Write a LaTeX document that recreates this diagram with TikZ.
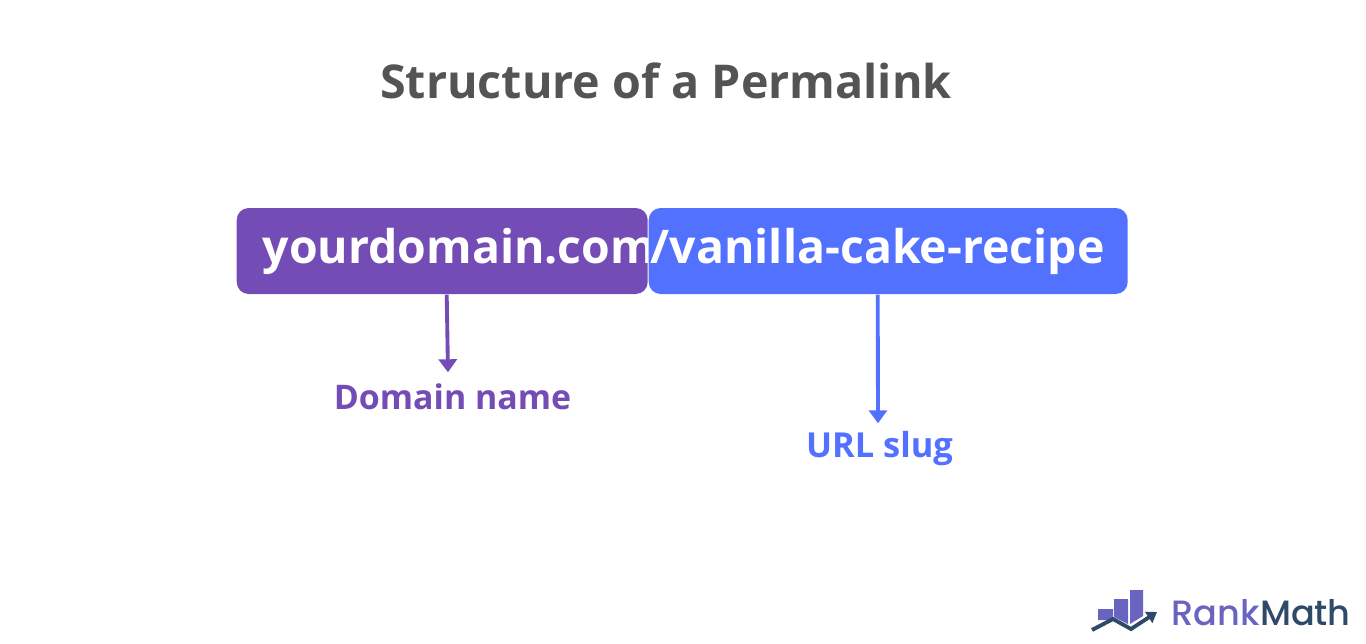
\documentclass[tikz,border=0pt]{standalone}
\usepackage{fontspec}
\setmainfont{Open Sans}
\newfontfamily\logofont{Poppins Medium}
\usetikzlibrary{arrows.meta}
\definecolor{titlegray}{HTML}{545454}
\definecolor{domainpurple}{HTML}{734CB5}
\definecolor{slugblue}{HTML}{5271FF}
\definecolor{logopurple}{HTML}{6A64C1}
\definecolor{logonavy}{HTML}{2F4A68}
\tikzset{
    urlbox/.style={rounded corners=0.12cm,text=white,inner ysep=0pt,text height=0.55cm,text depth=0.31cm,font=\fontsize{13.2pt}{16pt}\bfseries},
    partlabel/.style={inner sep=0pt,text height=0.3cm,text depth=0.1cm,font=\fontsize{9.65pt}{12pt}\bfseries},
    pointer/.style={line width=1.1pt,-{Triangle[width=0.18cm,length=0.13cm]}},
}
\begin{document}
\begin{tikzpicture}
    \useasboundingbox (0,0) rectangle (13.66,6.43);
    \node[anchor=base,text=titlegray,inner sep=0pt,font=\fontsize{13.26pt}{16pt}\bfseries] (title) at (6.66,5.45) {Structure of a Permalink};
    \node[urlbox,fill=domainpurple,inner xsep=0.26cm,anchor=west] (domain) at (2.36,3.92) {\makebox[3.59cm][l]{yourdomain.com}};
    \node[urlbox,fill=slugblue,inner xsep=0.02cm,anchor=west] (slug) at (6.48,3.92) {\makebox[4.75cm][l]{/vanilla-cake-recipe}};
    \node[partlabel,anchor=base,text=domainpurple] (domainlabel) at (4.525,2.34) {Domain name};
    \node[partlabel,anchor=base,text=slugblue,font=\fontsize{9.8pt}{12pt}\bfseries] (sluglabel) at (8.795,1.86) {URL slug};
    \draw[pointer,domainpurple] ([xshift=0.045cm]domain.south) -- ([xshift=-0.045cm,yshift=0.06cm]domainlabel.north);
    \draw[pointer,slugblue] ([xshift=-0.105cm]slug.south) -- ([xshift=-0.015cm,yshift=0.03cm]sluglabel.north);
    % logo
    \fill[logopurple] (10.98,0.34) rectangle (11.13,0.23) -- (10.98,0.16) -- cycle;
    \fill[logopurple] (11.14,0.44) -- (11.28,0.44) -- (11.28,0.19) -- (11.14,0.26) -- cycle;
    \fill[logopurple] (11.30,0.53) -- (11.43,0.53) -- (11.43,0.27) -- (11.30,0.19) -- cycle;
    \draw[logonavy,line width=1.1pt,-{Triangle[width=0.13cm,length=0.1cm]}] (10.92,0.13) -- (11.13,0.24) -- (11.31,0.14) -- (11.57,0.31);
    \node[anchor=base west,inner sep=0pt,font=\logofont\fontsize{10pt}{12pt}\selectfont] (logotext) at (11.71,0.18) {\textcolor{logopurple}{Rank}\textcolor{logonavy}{Math}};
\end{tikzpicture}
\end{document}
